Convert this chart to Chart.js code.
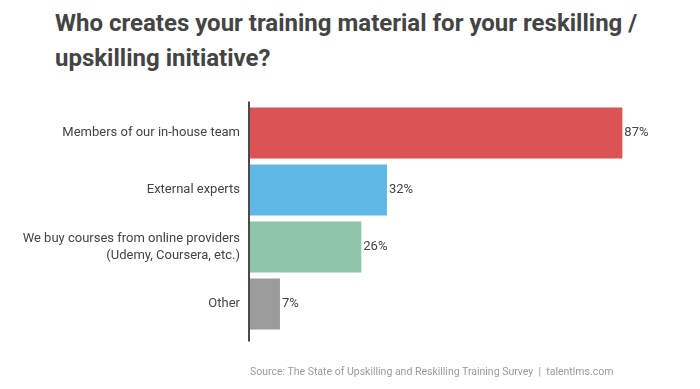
<!DOCTYPE html>
<html>
<head>
<meta charset="utf-8">
<script src="https://cdn.jsdelivr.net/npm/chart.js@4"></script>
<style>
  html, body { margin: 0; padding: 0; background: #fff; }
  #wrap { position: relative; width: 700px; height: 389px; overflow: hidden; }
  #title {
    position: absolute; left: 55px; top: 6px; width: 680px;
    font-family: Roboto, sans-serif; font-weight: bold; font-size: 24px;
    line-height: 35px; color: #444;
  }
  #source {
    position: absolute; left: 250px; top: 365px;
    font-family: Roboto, sans-serif; font-size: 10.5px; color: #9a9a9a; white-space: pre;
  }
  #box { position: absolute; left: 0; top: 0; width: 700px; height: 389px; }
</style>
</head>
<body>
<div id="wrap">
  <div id="title">Who creates your training material for your reskilling /<br>upskilling initiative?</div>
  <div id="box"><canvas id="c"></canvas></div>
  <div id="source">Source: The State of Upskilling and Reskilling Training Survey  |  talentlms.com</div>
</div>
<script>
var categories = [
  'Members of our in-house team',
  'External experts',
  ['We buy courses from online providers', '(Udemy, Coursera, etc.)'],
  'Other'
];
var values = [87, 32, 26, 7];
var barColors = ['#dc5356', '#5fb7e5', '#8ec4a8', '#9b9b9b'];

var axisLine = {
  id: 'axisLine',
  afterDatasetsDraw: function(chart) {
    var ctx = chart.ctx, a = chart.chartArea;
    ctx.save();
    ctx.strokeStyle = '#4a4a4a';
    ctx.lineWidth = 2;
    ctx.beginPath();
    ctx.moveTo(a.left - 1, a.top - 3);
    ctx.lineTo(a.left - 1, a.bottom + 9);
    ctx.stroke();
    ctx.restore();
  }
};

var valueLabels = {
  id: 'valueLabels',
  afterDatasetsDraw: function(chart) {
    var ctx = chart.ctx;
    var meta = chart.getDatasetMeta(0);
    ctx.save();
    ctx.font = '13px Roboto, sans-serif';
    ctx.fillStyle = '#444';
    ctx.textAlign = 'left';
    ctx.textBaseline = 'middle';
    meta.data.forEach(function(bar, i) {
      ctx.fillText(values[i] + '%', bar.x + 2, bar.y);
    });
    ctx.restore();
  }
};

new Chart(document.getElementById('c'), {
  type: 'bar',
  data: {
    labels: categories,
    datasets: [{
      data: values,
      backgroundColor: barColors,
      borderWidth: 0,
      barPercentage: 0.895,
      categoryPercentage: 1
    }]
  },
  options: {
    indexAxis: 'y',
    responsive: true,
    maintainAspectRatio: false,
    animation: false,
    layout: { padding: { top: 104.5, bottom: 56.5, right: 22, left: 0 } },
    plugins: { legend: { display: false }, tooltip: { enabled: false } },
    scales: {
      x: { display: false, min: 0, max: 100 },
      y: {
        afterFit: function(scale) { scale.width = 250; },
        grid: { display: false, drawTicks: false },
        border: { display: false },
        ticks: {
          color: '#444',
          padding: 10,
          font: { family: 'Roboto', size: 13, lineHeight: 1.3 }
        }
      }
    }
  },
  plugins: [axisLine, valueLabels]
});
</script>
</body>
</html>
